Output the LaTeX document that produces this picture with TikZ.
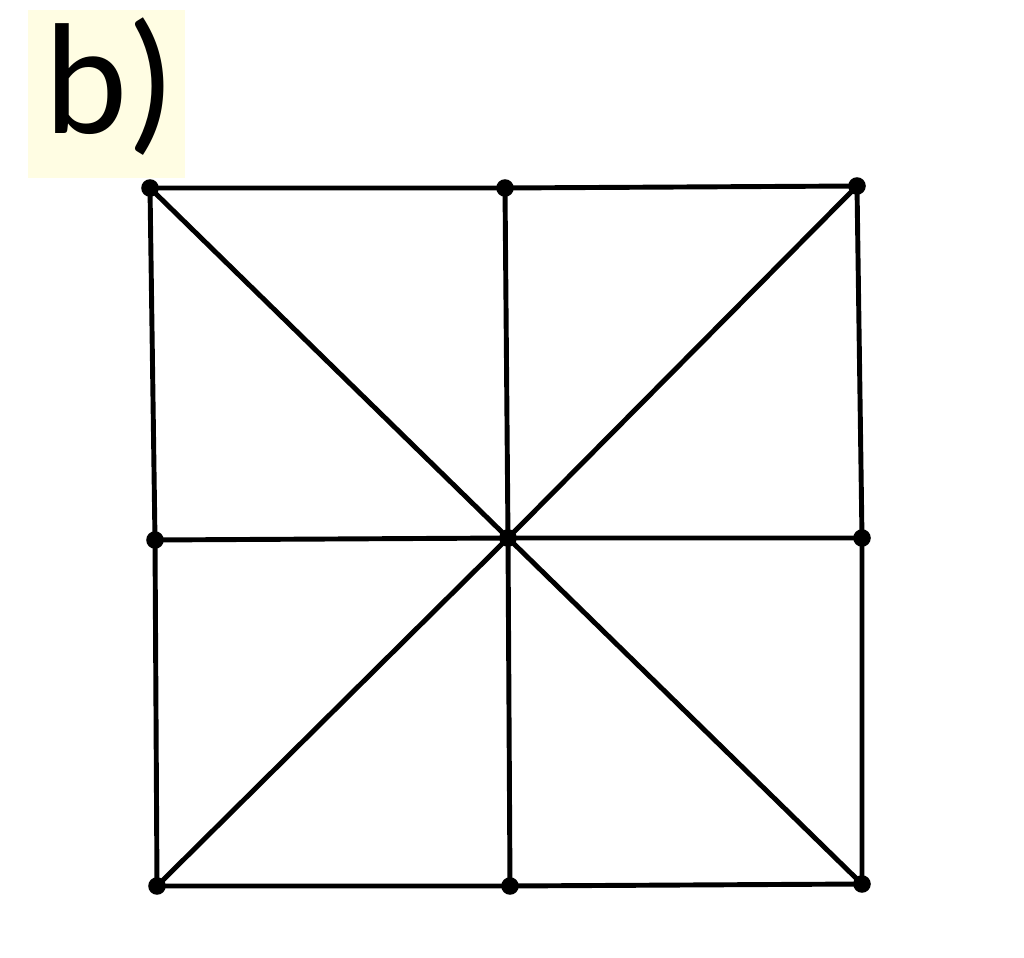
\documentclass[tikz,border=0pt]{standalone}
\usepackage{fontspec}
\setmainfont{Carlito}
\definecolor{labelbg}{HTML}{FFFDE3}
\begin{document}
\begin{tikzpicture}[x=0.01cm,y=-0.01cm,
  edge/.style={line width=1.4pt,black},
  vtx/.style={circle,fill=black,inner sep=0pt,minimum size=5pt}]
\useasboundingbox (0,0) rectangle (1024,958);
\fill[labelbg] (28,10) rectangle (185,178);
\node[anchor=base west,inner sep=0pt,font=\fontsize{45}{50}\selectfont] (lbl) at (44,134) {b)};
\node[vtx] (tl) at (150,188) {};
\node[vtx] (tm) at (505,188) {};
\node[vtx] (tr) at (857,186) {};
\node[vtx] (ml) at (155,540) {};
\node[vtx] (c) at (508,538) {};
\node[vtx] (mr) at (862,538) {};
\node[vtx] (bl) at (157,886) {};
\node[vtx] (bm) at (510,886) {};
\node[vtx] (br) at (862,884) {};
\draw[edge] (tl.center) -- (tm.center) -- (tr.center) -- (mr.center) -- (br.center) -- (bm.center) -- (bl.center) -- (ml.center) -- cycle;
\draw[edge] (tm.center) -- (c.center) -- (bm.center);
\draw[edge] (ml.center) -- (c.center) -- (mr.center);
\draw[edge] (tl.center) -- (c.center) -- (br.center);
\draw[edge] (tr.center) -- (c.center) -- (bl.center);
\end{tikzpicture}
\end{document}
